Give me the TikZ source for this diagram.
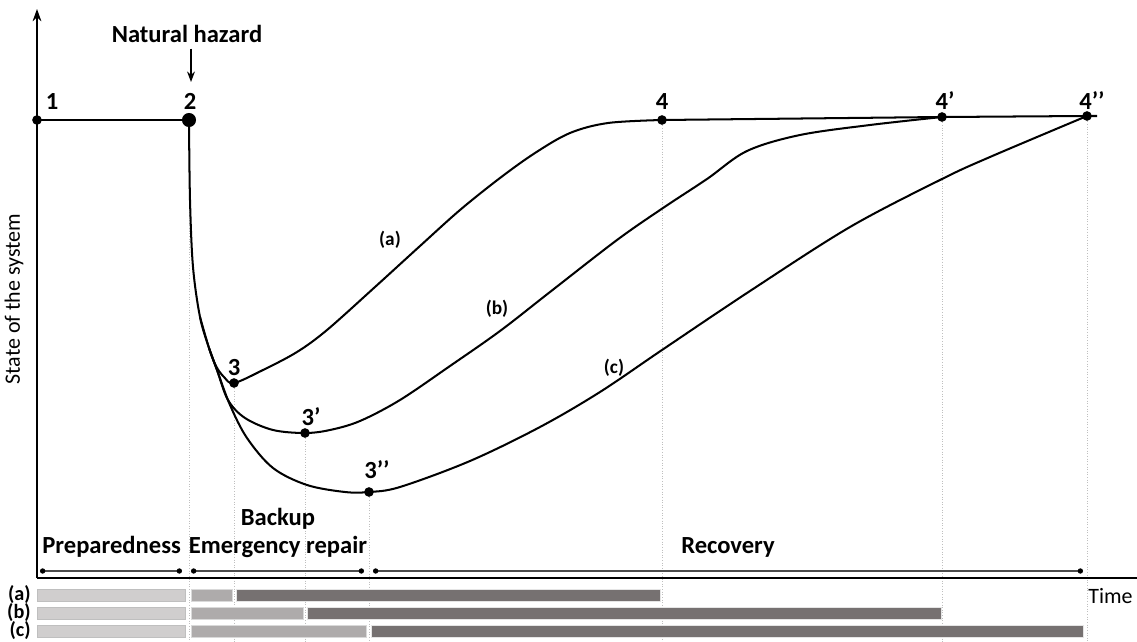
\documentclass[tikz,border=0pt]{standalone}
\usepackage{fontspec}
\setmainfont{Carlito}
\usetikzlibrary{arrows.meta}
\definecolor{barlight}{HTML}{D0CECE}
\definecolor{barmid}{HTML}{AEABAB}
\definecolor{bardark}{HTML}{767171}
\definecolor{guidegray}{HTML}{BFBFBF}
\begin{document}
\begin{tikzpicture}[x=0.02cm,y=-0.02cm,
  curve/.style={line width=1.15pt, black, line join=round},
  smalldot/.style={circle, fill=black, inner sep=0pt, minimum size=5.5pt},
  bigdot/.style={circle, fill=black, inner sep=0pt, minimum size=8pt},
  guide/.style={guidegray, line width=0.5pt, densely dotted},
  ptlabel/.style={font=\bfseries\fontsize{14}{16}\selectfont, anchor=base, inner sep=0pt},
  phase/.style={font=\bfseries\fontsize{14}{16}\selectfont, anchor=base, inner sep=0pt},
  curvelabel/.style={font=\bfseries\fontsize{11}{13}\selectfont, anchor=base, inner sep=0pt},
  rowlabel/.style={font=\bfseries\fontsize{11.5}{13}\selectfont, anchor=base east, inner sep=0pt},
  axislabel/.style={font=\fontsize{12.5}{15}\selectfont, inner sep=0pt},
  dim/.style={line width=0.6pt, black!70},
  dimtips/.style={{Circle[length=3pt,black]}-{Circle[length=3pt,black]}},
  barL/.style={fill=barlight, draw=black!25, line width=0.4pt},
  barM/.style={fill=barmid, draw=black!15, line width=0.4pt},
  barD/.style={fill=bardark, draw=black!10, line width=0.4pt}
]
\fill[white] (0,0) rectangle (1137,642);
\useasboundingbox (0,0) rectangle (1137,642);

% coordinates
\coordinate (O) at (37,578);
\coordinate (ytop) at (37,9);
\coordinate (xend) at (1137,578);

% guide lines
\draw[guide] (189,120) -- (189,642);
\draw[guide] (234,383) -- (234,642);
\draw[guide] (305,433) -- (305,642);
\draw[guide] (369,492) -- (369,642);
\draw[guide] (662,120) -- (662,642);
\draw[guide] (942,117) -- (942,642);
\draw[guide] (1087,116) -- (1087,642);

% axes
\draw[line width=1pt, -{Stealth[length=7pt,width=5pt]}] (O) -- (ytop);
\draw[line width=1.4pt] (O) -- (xend);

% points
\node[smalldot] (p1) at (37,120) {};
\node[bigdot] (p2) at (189,120) {};
\node[smalldot] (p3) at (234,383) {};
\node[smalldot] (p3a) at (305,433) {};
\node[smalldot] (p3b) at (369,492) {};
\node[smalldot] (p4) at (662,120) {};
\node[smalldot] (p4a) at (942,117) {};
\node[smalldot] (p4b) at (1087,116) {};
\coordinate (tail) at (1097,116);

% baseline state
\draw[curve] (p1.center) -- (p2.center);
\draw[curve] (p4.center) -- (p4a.center) -- (p4b.center) -- (tail);

% trunk and curve (c)
\draw[curve] plot[smooth, tension=0.55] coordinates {(p2.center) (190,200) (193,267) (200,317) (209,348) (217,370) (230,405) (247,438) (273,468) (307,485) (345,492) (p3b.center) (400,487) (470,461) (540,427) (600,392) (662,350) (750,291) (850,227) (942,179) (990,157) (p4b.center)};
% curve (a)
\draw[curve] plot[smooth, tension=0.55] coordinates {(200,317) (209,348) (216,366) (224,377) (p3.center) (263,370) (297,352) (327,330) (375,287) (420,246) (460,210) (500,178) (535,153) (570,133) (608,123) (p4.center)};
% curve (b)
\draw[curve] plot[smooth, tension=0.55] coordinates {(209,348) (217,370) (228,400) (245,418) (273,430) (p3a.center) (330,430) (360,421) (400,400) (450,366) (500,331) (550,292) (617,240) (663,208) (707,179) (747,151) (800,135) (870,125) (p4a.center)};

% point labels
\node[ptlabel] (l1) at (52,110) {1};
\node[ptlabel] (l2) at (190,110) {2};
\node[ptlabel] (l3) at (234,375) {3};
\node[ptlabel] (l3a) at (311,425) {3’};
\node[ptlabel] (l3b) at (377,478) {3’’};
\node[ptlabel] (l4) at (662,110) {4};
\node[ptlabel] (l4a) at (945,110) {4’};
\node[ptlabel] (l4b) at (1092,110) {4’’};

% natural hazard
\node[ptlabel] (nh) at (187,43) {Natural hazard};
\coordinate (nhend) at (191,82);
\draw[line width=0.7pt, -{Stealth[length=6pt,width=4.5pt]}] (nh.south -| nhend) ++(0,5) -- (nhend);

% curve labels
\node[curvelabel] (ca) at (390,245) {(a)};
\node[curvelabel] (cb) at (497,315) {(b)};
\node[curvelabel] (cc) at (614,373) {(c)};

% axis labels
\node[axislabel, rotate=90] (ylab) at (14,299) {State of the system};
\node[axislabel, anchor=base west] (xlab) at (1088,603) {Time};

% phases
\node[phase, anchor=base west] (prep) at (42,553) {Preparedness};
\node[phase] (backup) at (278,525) {Backup};
\node[phase] (emerg) at (278,553) {Emergency repair};
\node[phase] (recov) at (728,553) {Recovery};

% dimension lines
\draw[dim, dimtips] (40,571) -- (182,571);
\draw[dim, dimtips] (191,571) -- (364,571);
\draw[dim, dimtips] (373,571) -- (1083,571);

% bars
\node[rowlabel] (ra) at (31,600) {(a)};
\node[rowlabel] (rb) at (31,618) {(b)};
\node[rowlabel] (rc) at (31,636) {(c)};
\path[barL] (37,589) rectangle (185,601);
\path[barL] (37,607) rectangle (185,619);
\path[barL] (37,625) rectangle (185,637);
\path[barM] (191,589) rectangle (232,601);
\path[barM] (191,607) rectangle (303,619);
\path[barM] (191,625) rectangle (366,637);
\path[barD] (236,589) rectangle (660,601);
\path[barD] (307,607) rectangle (941,619);
\path[barD] (371,625) rectangle (1083,637);
\end{tikzpicture}
\end{document}
